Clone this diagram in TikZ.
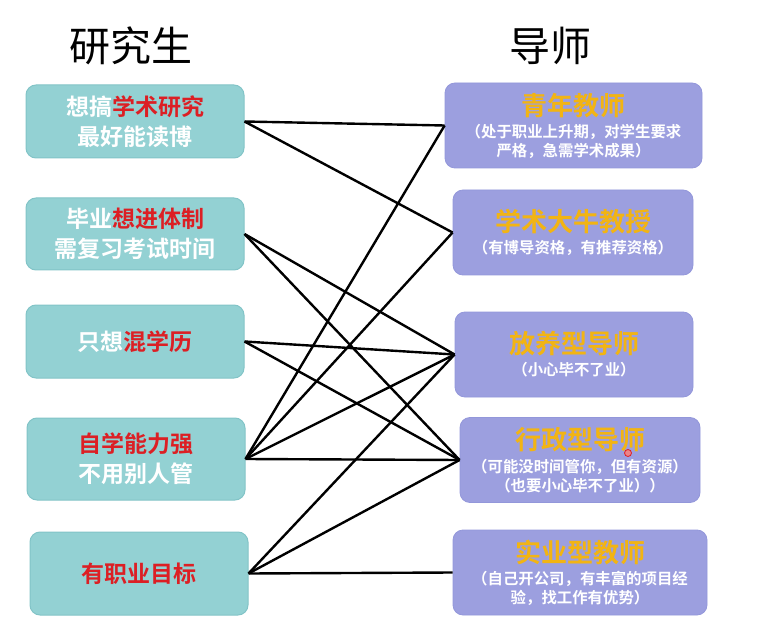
\documentclass[tikz,border=0pt]{standalone}
\usepackage{fontspec}
\setmainfont{Noto Sans CJK SC}[BoldFont={Noto Sans CJK SC Bold}]
\usepackage{xcolor}
\usepackage{tikz}

\definecolor{tealbox}{HTML}{93D1D3}
\definecolor{tealedge}{HTML}{82C4C7}
\definecolor{lilacbox}{HTML}{9C9FDF}
\definecolor{lilacedge}{HTML}{9397DA}
\definecolor{keyred}{HTML}{DC1F24}
\definecolor{keyyellow}{HTML}{F2B413}

\newcommand{\tname}[1]{{\fontsize{26}{30}\selectfont #1}}

\begin{document}
\begin{tikzpicture}[x=1pt,y=-1pt,semithick]
  \tikzstyle{student}=[rounded corners=10pt,fill=tealbox,draw=tealedge,line width=1pt,
    minimum width=218pt,inner sep=0pt,align=center,text=white,
    font=\bfseries\fontsize{23}{30}\selectfont]
  \tikzstyle{tutor}=[rounded corners=10pt,fill=lilacbox,draw=lilacedge,line width=0.8pt,
    minimum height=85pt,inner sep=0pt,align=center,text=white,
    font=\bfseries\fontsize{15.4}{19}\selectfont]
  \tikzstyle{heading}=[font=\fontsize{41}{41}\selectfont]
  \tikzstyle{link}=[draw,line width=2.4pt]

  \useasboundingbox (0,0) rectangle (768,636);

  \node[heading] (H1) at (131,46) {研究生};
  \node[heading] (H2) at (550,46) {导师};

  \node[student,minimum height=73pt] (S1) at (135,121.5) {想搞\textcolor{keyred}{学术研究}\\最好能读博};
  \node[student,minimum height=72pt] (S2) at (135,234)   {毕业\textcolor{keyred}{想进体制}\\需复习考试时间};
  \node[student,minimum height=73pt] (S3) at (135,341.5) {只想\textcolor{keyred}{混学历}};
  \node[student,minimum height=82pt] (S4) at (136,459)   {\textcolor{keyred}{自学能力强}\\不用别人管};
  \node[student,minimum height=83pt] (S5) at (139,573.5) {\textcolor{keyred}{有职业目标}};

  \node[tutor,minimum width=257pt] (T1) at (573.5,125.5) {\tname{\textcolor{keyyellow}{青年教师}}\\[3pt]（处于职业上升期，对学生要求\\严格，急需学术成果）};
  \node[tutor,minimum width=240pt] (T2) at (573,232.5)   {\tname{\textcolor{keyyellow}{学术大牛教授}}\\[3pt]（有博导资格，有推荐资格）};
  \node[tutor,minimum width=238pt] (T3) at (574,354.5)   {\tname{\textcolor{keyyellow}{放养型导师}}\\[3pt]（小心毕不了业）};
  \node[tutor,minimum width=240pt] (T4) at (580,460)     {\tname{\textcolor{keyyellow}{行政型导师}}\\[4pt]（可能没时间管你，但有资源）\\（也要小心毕不了业））};
  \node[tutor,minimum width=254pt] (T5) at (580,572.5)   {\tname{\textcolor{keyyellow}{实业型教师}}\\[3pt]（自己开公司，有丰富的项目经\\验，找工作有优势）};

  % pointer dot
  \node[circle,fill=keyred!55,draw=keyred,line width=0.8pt,inner sep=0pt,minimum size=7pt] (dot) at (628,453) {};

  \path (S1.east) edge[link] (T1.west)
        (S1.east) edge[link] (T2.west)
        (S2.east) edge[link] (T3.west)
        (S2.east) edge[link] (T4.west)
        (S3.east) edge[link] (T3.west)
        (S3.east) edge[link] (T4.west)
        (S4.east) edge[link] (T1.west)
        (S4.east) edge[link] (T2.west)
        (S4.east) edge[link] (T3.west)
        (S4.east) edge[link] (T4.west)
        (S5.east) edge[link] (T3.west)
        (S5.east) edge[link] (T4.west)
        (S5.east) edge[link] (T5.west);
\end{tikzpicture}
\end{document}
